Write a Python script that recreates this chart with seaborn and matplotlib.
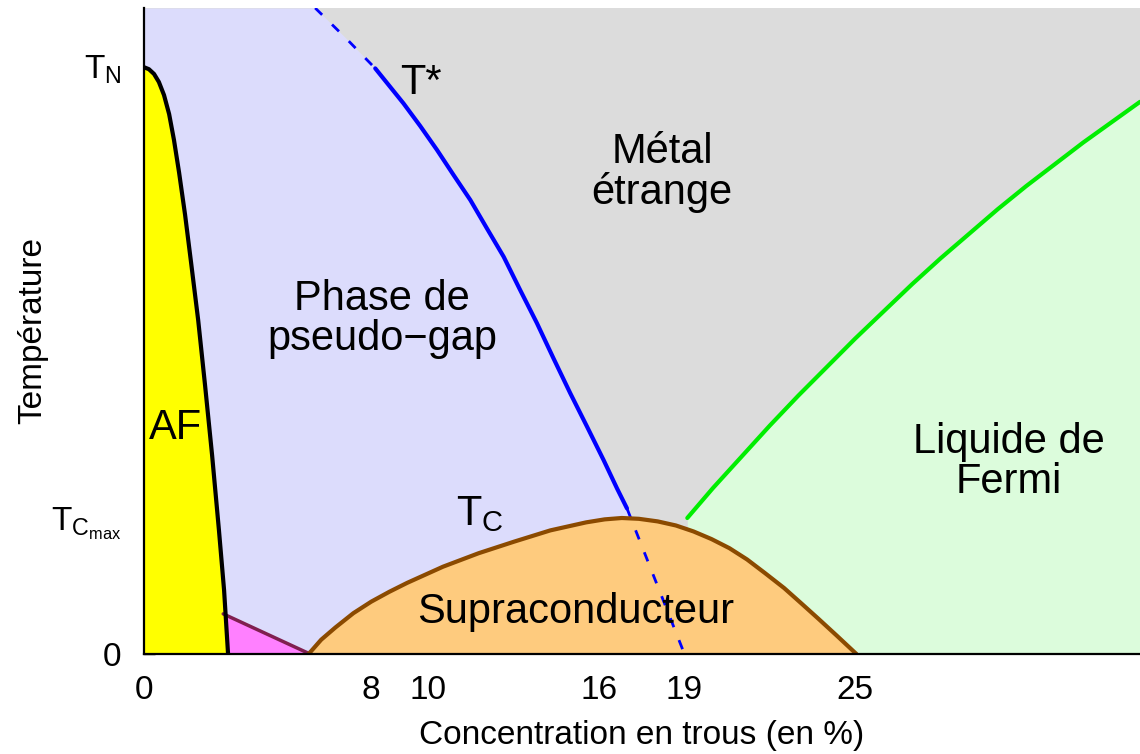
import matplotlib
matplotlib.use("Agg")
import matplotlib.pyplot as plt
import seaborn as sns

# phase diagram of cuprates
# x: hole concentration (%), T: arbitrary units (Tc max = 100)
af_x = [0.0, 0.19, 0.37, 0.54, 0.72, 0.90, 1.07, 1.25, 1.46, 1.67, 1.92, 2.16, 2.41, 2.65, 2.83, 2.97]
af_t = [431.6, 430, 426.5, 420.6, 411, 397, 378, 354, 323, 288, 245.6, 198, 146, 91, 47, 0]

pink_x = [2.80, 5.85]
pink_t = [29.5, 0]

dome_x = [5.80, 6.24, 6.74, 7.37, 8.0, 8.63, 9.26, 10.52, 11.77, 13.03, 14.29, 15.55, 16.2, 16.8,
          17.4, 18.06, 18.7, 19.32, 19.95, 20.58, 21.2, 21.84, 22.5, 23.09, 23.7, 24.35, 25.04]
dome_t = [0, 10.5, 19.5, 30, 38.5, 45.7, 52.3, 64.2, 74.1, 82.7, 90.9, 96.8, 99.0, 100,
          99.4, 97.5, 94.5, 90.1, 84.5, 77.8, 69.5, 59.3, 48.5, 37.5, 26, 13.5, 0]

tstar_up_x = [6.03, 7.1, 8.14]
tstar_up_t = [475, 453, 430.6]
tstar_x = [8.14, 8.66, 9.13, 9.72, 10.31, 10.89, 11.48, 12.06, 12.65, 13.23, 13.82, 14.40, 14.99,
           15.58, 16.16, 16.63, 16.98]
tstar_t = [430.6, 417.1, 404.9, 388.2, 370.6, 352.2, 333.8, 313, 292.1, 267.6, 243.2, 217.4, 191.7,
           167.1, 142.6, 121.8, 107.1]
tstar_low_x = [16.98, 19.0]
tstar_low_t = [107.1, 0]

green_x = [19.1, 20.0, 21, 22, 23, 24, 25, 26, 27, 28, 29, 30, 31, 32, 33, 34, 35]
green_t = [100, 122, 145, 168, 190, 211, 232, 252, 272, 291, 309, 327, 344, 360, 376, 391, 406]

xticks = [0, 8, 10, 16, 19, 25]
yticks = [0, 100, 432]
ytick_labels = ["0", r"$\mathrm{T_{C_{max}}}$", r"$\mathrm{T_N}$"]

sns.set_style("ticks")
plt.rcParams["font.family"] = ["Liberation Sans", "DejaVu Sans"]
plt.rcParams["mathtext.fontset"] = "custom"
plt.rcParams["mathtext.rm"] = "Liberation Sans"
plt.rcParams["mathtext.it"] = "Liberation Sans:italic"
for key in ["text.color", "axes.labelcolor", "xtick.color", "ytick.color"]:
    plt.rcParams[key] = "black"

fig = plt.figure(figsize=(11.4, 7.54), dpi=100)
ax = fig.add_axes([143.5 / 1140, 100 / 754, (1140 - 143.5) / 1140, 646 / 754])
ax.set_facecolor("#dcdcdc")

# filled regions
tstar_all_x = tstar_up_x + tstar_x[1:] + tstar_low_x[1:]
tstar_all_t = tstar_up_t + tstar_t[1:] + tstar_low_t[1:]
ax.fill_betweenx(tstar_all_t, 0, tstar_all_x, color="#dcdcfc", lw=0)
ax.fill_between(green_x, 0, green_t, color="#dcfcdc", lw=0)
ax.fill_between(pink_x, 0, pink_t, color="#ff80ff", lw=0)
ax.fill_between(dome_x, 0, dome_t, color="#fecb7e", lw=0)
ax.fill_betweenx(af_t, 0, af_x, color="#ffff00", lw=0)

# boundaries
line_kw = dict(ax=ax, sort=False, estimator=None, solid_joinstyle="round")
sns.lineplot(x=tstar_up_x, y=tstar_up_t, color="#0000ff", lw=2, linestyle=(0, (3.5, 5)), **line_kw)
sns.lineplot(x=tstar_low_x, y=tstar_low_t, color="#0000ff", lw=2, linestyle=(0, (3.5, 5)), **line_kw)
sns.lineplot(x=tstar_x, y=tstar_t, color="#0000ff", lw=3, **line_kw)
sns.lineplot(x=green_x, y=green_t, color="#00ee00", lw=3, **line_kw)
sns.lineplot(x=pink_x, y=pink_t, color="#801f50", lw=2.5, **line_kw)
sns.lineplot(x=dome_x, y=dome_t, color="#8b4a00", lw=3, **line_kw)
sns.lineplot(x=af_x, y=af_t, color="black", lw=3, **line_kw)

# labels of the phases
ax.text(18.22, 354, "Métal\nétrange", ha="center", va="center", fontsize=30, linespacing=1.0)
ax.text(8.38, 246, "Phase de\npseudo\u2212gap", ha="center", va="center", fontsize=30, linespacing=1.0)
ax.text(30.39, 141, "Liquide de\nFermi", ha="center", va="center", fontsize=30, linespacing=1.0)
ax.text(15.17, 31, "Supraconducteur", ha="center", va="center", fontsize=30)
ax.text(1.11, 166, "AF", ha="center", va="center", fontsize=30)
ax.text(9.0, 420, "T*", ha="left", va="center", fontsize=30)
ax.text(11.8, 103, r"$\mathrm{T_C}$", ha="center", va="center", fontsize=30)

ax.set_xlim(0, 35)
ax.set_ylim(0, 475)
ax.set_xticks(xticks)
ax.set_yticks(yticks)
ax.set_yticklabels(ytick_labels)
ax.tick_params(direction="in", length=8, width=1, labelsize=24)
ax.tick_params(axis="x", pad=15)
ax.tick_params(axis="y", pad=16)
ax.set_xlabel("Concentration en trous (en %)", fontsize=24, labelpad=10)
ax.set_ylabel("Température", fontsize=24, labelpad=2)

sns.despine(ax=ax)
for s in ["left", "bottom"]:
    ax.spines[s].set_linewidth(1.6)
    ax.spines[s].set_color("black")

fig.savefig("out.png", dpi=100)
